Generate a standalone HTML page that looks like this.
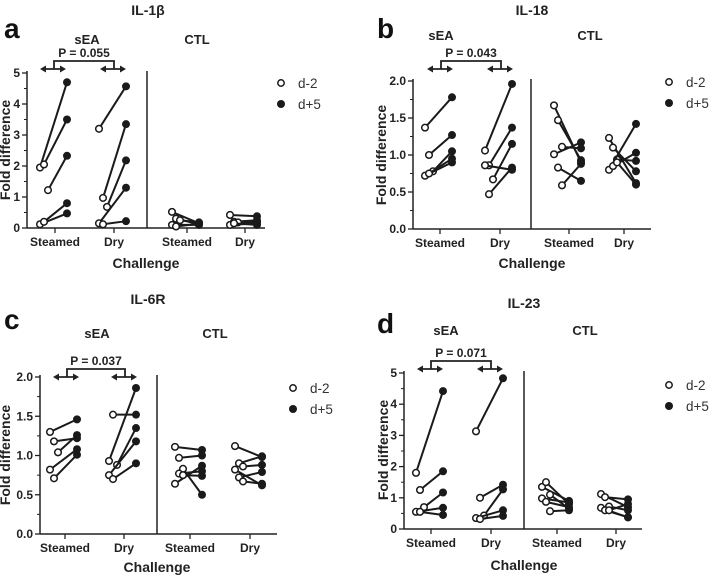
<!DOCTYPE html>
<html><head><meta charset="utf-8">
<style>
body{margin:0;background:#fff;}
svg{display:block;font-family:"Liberation Sans",sans-serif;}
.tk{font-size:12px;font-weight:bold;fill:#222;}
.grp{font-size:13px;font-weight:bold;fill:#222;}
.ttl{font-size:14px;font-weight:bold;fill:#222;}
.lg{font-size:13.5px;fill:#333;}
</style></head>
<body>
<svg id="fig" width="709" height="577" viewBox="0 0 709 577"></svg>
<script>
// ---------- data ----------
const groups = ["sEA-Steamed","sEA-Dry","CTL-Steamed","CTL-Dry"];
const categoryLabels = ["Steamed","Dry","Steamed","Dry"];
// panel a IL-1b
const aPre  = [[1.95,2.05,1.22,0.12,0.2],[3.2,0.97,0.68,0.15,0.12],[0.52,0.3,0.25,0.1,0.05],[0.42,0.2,0.18,0.1,0.15]];
const aPost = [[4.7,3.5,2.33,0.47,0.8],[4.57,3.35,2.18,1.3,0.22],[0.15,0.12,0.18,0.1,0.14],[0.38,0.25,0.2,0.15,0.1]];
const aTicks = [0,1,2,3,4,5];
// panel b IL-18
const bPre  = [[1.37,1.0,0.78,0.72,0.75],[1.06,0.86,0.67,0.86,0.47],[1.67,1.47,1.11,1.01,0.83,0.59],[1.23,1.1,0.94,0.8,0.85,0.9]];
const bPost = [[1.78,1.27,1.05,0.9,0.95],[1.96,1.37,1.15,0.8,0.83],[0.9,0.93,1.09,1.17,0.65,0.88],[0.62,0.78,0.92,1.42,1.03,0.6]];
const bTicks = [0,0.5,1,1.5,2];
// panel c IL-6R
const cPre  = [[1.3,1.18,1.04,0.82,0.71],[0.93,1.52,0.88,0.75,0.7],[1.11,0.97,0.83,0.64,0.77,0.75],[1.12,0.9,0.86,0.82,0.72,0.67]];
const cPost = [[1.46,1.22,1.26,1.08,1.01],[1.86,1.52,1.35,1.18,0.9],[1.07,1.0,0.5,0.87,0.8,0.74],[0.98,0.99,0.88,0.62,0.79,0.64]];
const cTicks = [0,0.5,1,1.5,2];
// panel d IL-23
const dPre  = [[1.8,1.25,0.7,0.55,0.55],[3.13,1.0,0.43,0.35,0.32],[1.35,1.5,1.1,0.98,0.87,0.57],[1.12,1.02,0.72,0.68,0.6,0.6]];
const dPost = [[4.42,1.85,1.17,0.68,0.45],[4.83,1.42,1.27,0.6,0.42],[0.9,0.8,0.65,0.85,0.7,0.6],[0.7,0.95,0.6,0.37,0.38,0.8]];
const dTicks = [0,1,2,3,4,5];
const pValues = ["0.055","0.043","0.037","0.071"];

// ---------- drawing ----------
const NS="http://www.w3.org/2000/svg";
const svg=document.getElementById('fig');
function mk(tag,attrs,parent,text){const e=document.createElementNS(NS,tag);for(const k in attrs)e.setAttribute(k,attrs[k]);if(text!==undefined)e.textContent=text;(parent||svg).appendChild(e);return e;}

function panel(cfg){
  const g=mk('g',{});
  
  
  const yScale=v=>cfg.y0-(v/cfg.yMax)*(cfg.y0-cfg.yTop);
  const ya=mk('line',{x1:cfg.ox,y1:cfg.y0,x2:cfg.ox,y2:cfg.yTop-2,stroke:'#222','stroke-width':1.5},g);
  
  const xa=mk('line',{x1:cfg.ox,y1:cfg.y0,x2:cfg.xEnd,y2:cfg.y0,stroke:'#222','stroke-width':1.5},g);
  
  const dv=mk('line',{x1:cfg.div,y1:cfg.y0,x2:cfg.div,y2:cfg.yTop-2,stroke:'#222','stroke-width':1.5},g);
  
  cfg.ticks.forEach((t,i)=>{
    const y=yScale(t);
    mk('line',{x1:cfg.ox-5,y1:y,x2:cfg.ox,y2:y,stroke:'#222','stroke-width':1.3},g);
    const lb=mk('text',{x:cfg.ox-7,y:y+4,'text-anchor':'end',class:'tk'},g,cfg.tickFmt(t));
    
    if(i<cfg.ticks.length-1){const m=yScale((t+cfg.ticks[i+1])/2);mk('line',{x1:cfg.ox-3,y1:m,x2:cfg.ox,y2:m,stroke:'#222','stroke-width':1},g);}
  });
  cfg.cx.forEach((x,i)=>{
    mk('line',{x1:x,y1:cfg.y0,x2:x,y2:cfg.y0+5,stroke:'#222','stroke-width':1.3},g);
    const lb=mk('text',{x:x,y:cfg.y0+18,'text-anchor':'middle',class:'tk'},g,categoryLabels[i]);
    
  });
  cfg.pre.forEach((arr,gi)=>{
    const xc=cfg.cx[gi];
    arr.forEach((v,j)=>{
      const x1=xc-15+(j%3)*4,x2=xc+12;
      const y1=yScale(v),y2=yScale(cfg.post[gi][j]);
      const ln=mk('line',{x1:x1,y1:y1,x2:x2,y2:y2,stroke:'#1a1a1a','stroke-width':2},g);
      
      const c1=mk('circle',{cx:x1,cy:y1,r:3.3,fill:'#fff',stroke:'#1a1a1a','stroke-width':1.5},g);
      
      const c2=mk('circle',{cx:x2,cy:y2,r:4,fill:'#1a1a1a'},g);
      
    });
  });
  const b=cfg.br;
  const bl=mk('path',{d:`M${b.x1},${b.ya} V${b.yt} H${b.x2} V${b.ya}`,fill:'none',stroke:'#222','stroke-width':1.8},g);
  
  [[b.x1-14,b.x1+12],[b.x2-14,b.x2+12]].forEach(([l,r])=>{
    mk('line',{x1:l+3,y1:b.ya,x2:r-3,y2:b.ya,stroke:'#222','stroke-width':1.8},g);
    mk('path',{d:`M${l},${b.ya} l6,-3.5 v7 z M${r},${b.ya} l-6,-3.5 v7 z`,fill:'#222'},g);
  });
  const pt=mk('text',{x:(b.x1+b.x2)/2,y:b.yt-4,'text-anchor':'middle',class:'tk'},g,'P  = '+cfg.p);
  
  const t=mk('text',{x:cfg.title[0],y:cfg.title[1],'text-anchor':'middle',class:'ttl'},g,cfg.titleText);
  
  const L=mk('text',{x:cfg.L[0],y:cfg.L[1],'font-size':28,'font-weight':'bold',fill:'#111'},g,cfg.letter);
  
  const s1=mk('text',{x:cfg.sea[0],y:cfg.sea[1],'text-anchor':'middle',class:'grp'},g,'sEA');
  
  const s2=mk('text',{x:cfg.ctl[0],y:cfg.ctl[1],'text-anchor':'middle',class:'grp'},g,'CTL');
  
  const yt=mk('text',{x:0,y:0,'text-anchor':'middle',class:'ttl',transform:`translate(${cfg.yt[0]},${cfg.yt[1]}) rotate(-90)`},g,'Fold difference');
  
  const xt=mk('text',{x:cfg.xt[0],y:cfg.xt[1],'text-anchor':'middle',class:'ttl'},g,'Challenge');
  
  const lg=mk('g',{},g);
  
  mk('circle',{cx:cfg.lg[0],cy:cfg.lg[1],r:3.2,fill:'#fff',stroke:'#1a1a1a','stroke-width':1.5},lg);
  mk('text',{x:cfg.lg[0]+17,y:cfg.lg[1]+5,class:'lg'},lg,'d-2');
  mk('circle',{cx:cfg.lg[0],cy:cfg.lg[1]+21,r:4,fill:'#1a1a1a'},lg);
  mk('text',{x:cfg.lg[0]+17,y:cfg.lg[1]+26,class:'lg'},lg,'d+5');
}
const f0=t=>String(t), f1=t=>t.toFixed(1);
panel({letter:'a',titleText:'IL-1β',pre:aPre,post:aPost,ticks:aTicks,tickFmt:f0,yMax:5,ox:27,y0:228,yTop:73,xEnd:265,div:147,cx:[55,114,187,245],
  br:{x1:54,x2:114,yt:61,ya:69},p:pValues[0],title:[148,15],L:[4,38],sea:[87,44],ctl:[197,44],yt:[10,150],xt:[146,268],lg:[281,83]});
panel({letter:'b',titleText:'IL-18',pre:bPre,post:bPost,ticks:bTicks,tickFmt:f1,yMax:2,ox:413,y0:229,yTop:81,xEnd:651,div:531,cx:[440,500,569,624],
  br:{x1:441,x2:501,yt:61,ya:69},p:pValues[1],title:[532,15],L:[377,38],sea:[441,40],ctl:[590,40],yt:[386,155],xt:[532,268],lg:[669,82]});
panel({letter:'c',titleText:'IL-6R',pre:cPre,post:cPost,ticks:cTicks,tickFmt:f1,yMax:2,ox:40,y0:534,yTop:377,xEnd:277,div:157,cx:[65,124,190,250],
  br:{x1:67,x2:125,yt:369,ya:377},p:pValues[2],title:[148,304],L:[4,329],sea:[97,338],ctl:[215,338],yt:[10,455],xt:[157,572],lg:[293,388]});
panel({letter:'d',titleText:'IL-23',pre:dPre,post:dPost,ticks:dTicks,tickFmt:f0,yMax:5,ox:404,y0:529,yTop:373,xEnd:642,div:524,cx:[431,491,557,616],
  br:{x1:431,x2:491,yt:361,ya:369},p:pValues[3],title:[524,308],L:[377,333],sea:[446,335],ctl:[585,335],yt:[388,450],xt:[524,570],lg:[669,385]});
</script>
</body></html>
